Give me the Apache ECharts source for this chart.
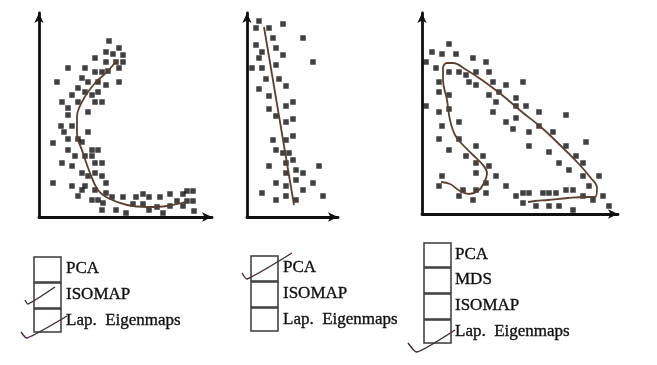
<!DOCTYPE html>
<html><head><meta charset="utf-8">
<script src="https://cdn.jsdelivr.net/npm/echarts@6/dist/echarts.min.js"></script>
<style>html,body{margin:0;padding:0;background:#fff}#c{width:657px;height:365px}</style>
</head><body><div id="c"></div>
<script>
// Panel 1 scatter points [x, y]
const panel1Points = [[70,176],[67,165],[74,163],[80,169],[84,162],[67,155],[77,155],[84,155],[56,159],[29,149],[46,149],[56,145],[63,145],[69,146],[80,149],[43,139],[49,135],[18,135],[59,135],[80,135],[39,129],[46,125],[67,132],[59,125],[33,122],[53,122],[23,115],[39,115],[56,115],[63,115],[29,109],[29,102],[49,105],[22,91],[33,91],[25,85],[49,85],[39,78],[14,74],[29,78],[43,75],[29,67],[53,67],[59,67],[36,61],[46,61],[53,61],[23,54],[33,51],[56,54],[63,54],[43,44],[49,41],[56,44],[63,41],[14,34],[33,31],[43,27],[46,31],[67,34],[39,21],[56,27],[67,24],[53,17],[59,17],[63,7],[64,14],[73,20],[77,7],[84,20],[87,4],[97,20],[94,13],[104,23],[110,20],[104,13],[110,7],[121,20],[118,10],[124,4],[131,23],[131,11],[138,16],[144,11],[144,23],[148,26],[154,26],[148,16],[154,16],[155,6]];
const panel1Curve = [[78,157],[68,145],[56,134],[44,117],[38,100],[38,84],[44,64],[51,44],[59,27],[69,19],[88,12],[108,10],[128,11],[146,15]];
// Panel 2
const panel2Points = [[12,196],[9,189],[22,189],[36,193],[26,179],[56,179],[9,172],[15,165],[29,169],[36,162],[12,159],[66,155],[5,149],[15,149],[29,152],[19,138],[32,138],[12,128],[39,131],[22,121],[22,108],[39,111],[46,115],[29,101],[46,98],[39,95],[26,77],[39,77],[46,81],[29,67],[36,64],[42,64],[46,57],[22,51],[39,54],[72,51],[49,47],[39,44],[56,44],[49,37],[29,34],[39,31],[66,34],[56,27],[15,24],[29,17],[39,21],[49,17],[76,21]];
const panel2Curve = [[17,190],[47,12]];
// Panel 3
const panel3Points = [[27,170],[10,162],[20,160],[34,160],[4,152],[51,156],[64,152],[14,146],[27,142],[37,142],[44,139],[54,142],[67,142],[17,132],[47,132],[54,129],[71,132],[84,129],[101,132],[17,122],[77,122],[27,119],[67,119],[94,116],[74,112],[4,108],[27,105],[94,108],[104,108],[17,102],[71,102],[117,102],[144,99],[94,96],[20,88],[37,92],[84,92],[117,88],[91,85],[107,82],[131,82],[17,75],[37,75],[164,72],[54,68],[107,68],[144,68],[27,64],[127,62],[44,58],[61,58],[154,58],[54,51],[137,51],[161,51],[67,48],[147,44],[54,41],[20,38],[74,38],[161,38],[177,38],[64,31],[17,28],[84,28],[167,28],[197,28],[41,24],[54,24],[144,24],[151,24],[64,21],[101,21],[107,21],[121,21],[127,21],[134,21],[37,18],[94,18],[161,18],[181,18],[51,14],[101,11],[171,14],[114,8],[127,8],[137,8],[187,8],[151,4]];
const panel3Curve = [[19,32],[28,30],[38,23],[47,20],[56,23],[62,31],[65,41],[61,49],[51,59],[41,69],[33,79],[28,94],[25,114],[21,134],[21,146],[25,151],[31,151],[43,145],[60,134],[80,119],[100,102],[120,86],[140,67],[156,51],[168,37],[175,26],[173,17],[163,17],[146,16],[126,14],[113,13],[106,12]];
// Checkbox labels
const labels1 = ['PCA','ISOMAP','Lap.  Eigenmaps'];
const labels2 = ['PCA','ISOMAP','Lap.  Eigenmaps'];
const labels3 = ['PCA','MDS','ISOMAP','Lap.  Eigenmaps'];
const checked1 = [false,true,true];
const checked2 = [true,false,false];
const checked3 = [false,false,false,true];

const chart = echarts.init(document.getElementById('c'), null, {renderer:'canvas'});
const ink = '#101010';
const curveColor = '#5b3f33';
const grids = [
  {left:39, top:13, width:173, height:204},
  {left:247, top:13, width:91, height:204},
  {left:422, top:13, width:196, height:201}
];
const ranges = [[173,204],[91,204],[196,201]];
function axis(i, maxv){
  return {type:'value', gridIndex:i, min:0, max:maxv,
    axisLine:{show:true, onZero:false, symbol:['none','arrow'], symbolSize:[7,10], lineStyle:{color:ink, width:2.8}},
    axisTick:{show:false}, axisLabel:{show:false}, splitLine:{show:false}};
}
const xAxes = ranges.map((r,i)=>axis(i,r[0]));
const yAxes = ranges.map((r,i)=>axis(i,r[1]));
const pts = [panel1Points, panel2Points, panel3Points];
const curves = [panel1Curve, panel2Curve, panel3Curve];
const series = [];
pts.forEach((d,i)=>series.push({type:'scatter', xAxisIndex:i, yAxisIndex:i, data:d, symbol:'rect', symbolSize:5.5, itemStyle:{color:ink}, silent:true}));
curves.forEach((d,i)=>series.push({type:'line', xAxisIndex:i, yAxisIndex:i, data:d, smooth:i!==1 ? 0.4 : false, showSymbol:false, lineStyle:{color:curveColor, width:1.8}, silent:true}));

// Checkbox lists
const graphics = [];
function addList(labels, checked, boxX, tops, textX){
  labels.forEach((t,k)=>{
    graphics.push({type:'rect', shape:{x:boxX, y:tops[k], width:27, height:tops[k+1]!==undefined ? (tops[k+1]-tops[k]-1) : 23}, style:{fill:'none', stroke:'#3a3a3a', lineWidth:1.5}});
    graphics.push({type:'text', x:textX, y:tops[k] + 12, style:{text:t, font:'17px "Liberation Serif", serif', fill:ink, stroke:ink, lineWidth:0.35, textVerticalAlign:'middle'}});
  });
}
addList(labels1, checked1, 34, [257,283,309,333], 66);
addList(labels2, checked2, 251, [256,282,308,332], 283);
addList(labels3, checked3, 424, [243,268,294,320,344], 455);
const checkStyle = {fill:'none', stroke:'#3e2a38', lineWidth:1.4};
// hand-drawn check marks
graphics.push({type:'polyline', shape:{points:[[25,300],[28,304],[55,287]], smooth:0.2}, style:checkStyle});
graphics.push({type:'polyline', shape:{points:[[21,332],[27,338],[67,316]], smooth:0.2}, style:checkStyle});
graphics.push({type:'polyline', shape:{points:[[242,273],[247,279],[292,253]], smooth:0.2}, style:checkStyle});
graphics.push({type:'polyline', shape:{points:[[408,343],[417,352],[455,330]], smooth:0.2}, style:checkStyle});

chart.setOption({
  backgroundColor:'#ffffff',
  animation:false,
  grid:grids,
  xAxis:xAxes,
  yAxis:yAxes,
  series:series,
  graphic:graphics
});
</script></body></html>
